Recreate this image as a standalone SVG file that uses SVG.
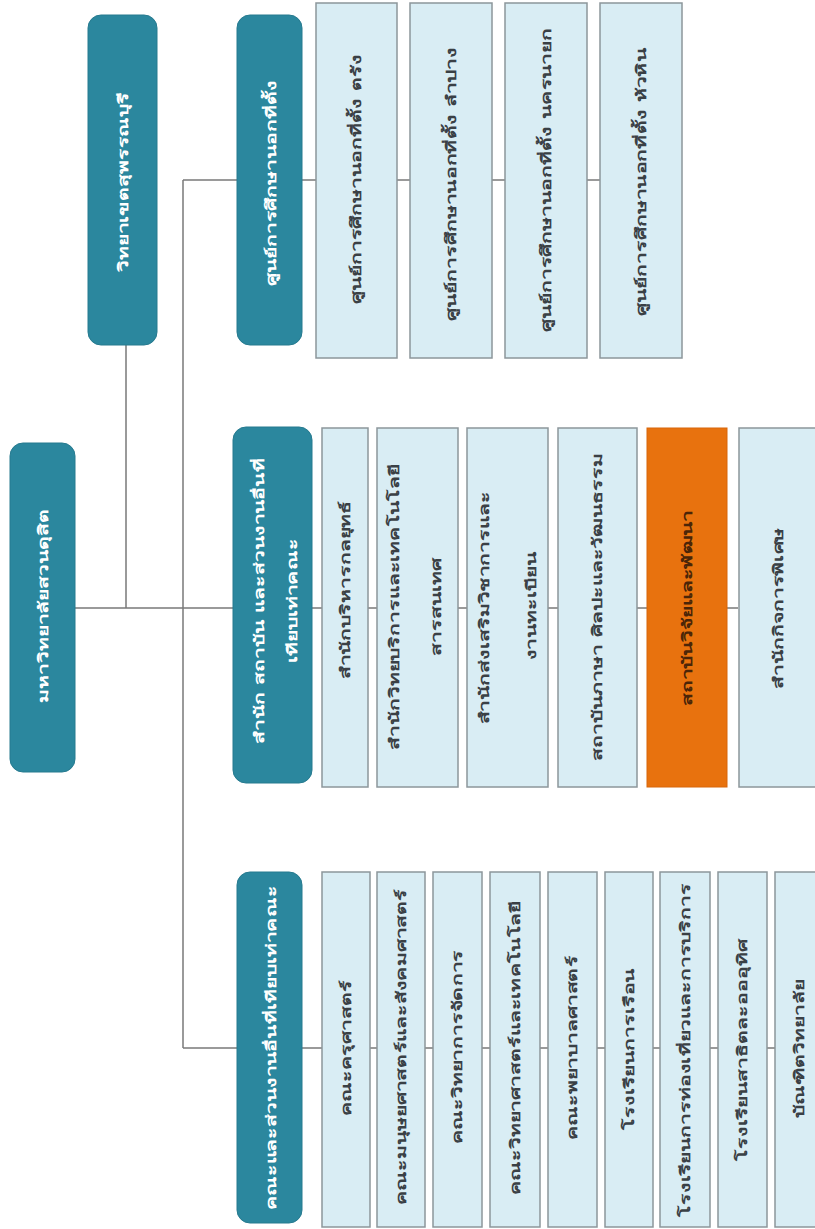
<svg xmlns="http://www.w3.org/2000/svg" width="815" height="1229" viewBox="0 0 815 1229">
<style>
.hd{fill:#2b879e;stroke:#267a8f;stroke-width:1}
.bx{fill:#d9edf4;stroke:#8c969b;stroke-width:1.5}
.or{fill:#e8720e;stroke:#d8660a;stroke-width:1}
text{font-family:"DejaVu Sans",sans-serif;font-size:14px;text-anchor:middle;dominant-baseline:central;font-weight:bold}
.ht{fill:#ffffff}
.bt{fill:#3a4045}
.ot{fill:#4a2508}
.cn{fill:none;stroke:#7a7a7a;stroke-width:1.5}
</style>
<rect width="815" height="1229" fill="#ffffff"/>
<g id="connectors">
<path class="cn" d="M75,608H235M126,608V345M183,180V1048M183,180H237M183,1048H237"/>
<path class="cn" d="M302,180H316M397,180H410M492,180H505M587,180H600"/>
<path class="cn" d="M312,608H322M368,608H377M458,608H467M548,608H558M637,608H647M727,608H738"/>
<path class="cn" d="M302,1048H322M370,1048H377M425,1048H433M482,1048H490M540,1048H548M597,1048H605M653,1048H660M710,1048H718M767,1048H775"/>
</g>
<g id="root"><rect class="hd" x="10" y="443" width="65" height="329" rx="13"/><text class="ht" transform="translate(43 606) rotate(-90) scale(1.5 1)">มหาวิทยาลัยสวนดุสิต</text></g>
<g id="campus"><rect class="hd" x="88" y="15" width="69" height="330" rx="13"/><text class="ht" transform="translate(123 182) rotate(-90) scale(1.5 1)">วิทยาเขตสุพรรณบุรี</text></g>

<g id="h-centers"><rect class="hd" x="237" y="15" width="65" height="330" rx="13"/><text class="ht" transform="translate(271 183) rotate(-90) scale(1.5 1)">ศูนย์การศึกษานอกที่ตั้ง</text></g>
<g id="c1"><rect class="bx" x="316" y="3" width="81" height="355"/><text class="bt" transform="translate(356 179) rotate(-90) scale(1.5 1)">ศูนย์การศึกษานอกที่ตั้ง ตรัง</text></g>
<g id="c2"><rect class="bx" x="410" y="3" width="82" height="355"/><text class="bt" transform="translate(451 184) rotate(-90) scale(1.5 1)">ศูนย์การศึกษานอกที่ตั้ง ลำปาง</text></g>
<g id="c3"><rect class="bx" x="505" y="3" width="82" height="355"/><text class="bt" transform="translate(546 180) rotate(-90) scale(1.5 1)">ศูนย์การศึกษานอกที่ตั้ง นครนายก</text></g>
<g id="c4"><rect class="bx" x="600" y="3" width="82" height="355"/><text class="bt" transform="translate(641 182) rotate(-90) scale(1.5 1)">ศูนย์การศึกษานอกที่ตั้ง หัวหิน</text></g>

<g id="h-offices"><rect class="hd" x="233" y="427" width="79" height="356" rx="13"/>
<text class="ht" transform="translate(259 601) rotate(-90) scale(1.5 1)">สำนัก สถาบัน และส่วนงานอื่นที่</text>
<text class="ht" transform="translate(292 601) rotate(-90) scale(1.5 1)">เทียบเท่าคณะ</text></g>
<g id="o1"><rect class="bx" x="322" y="428" width="46" height="359"/><text class="bt" transform="translate(345 590) rotate(-90) scale(1.5 1)">สำนักบริหารกลยุทธ์</text></g>
<g id="o2"><rect class="bx" x="377" y="428" width="81" height="359"/>
<text class="bt" transform="translate(394 607) rotate(-90) scale(1.5 1)">สำนักวิทยบริการและเทคโนโลยี</text>
<text class="bt" transform="translate(436 607) rotate(-90) scale(1.5 1)">สารสนเทศ</text></g>
<g id="o3"><rect class="bx" x="467" y="428" width="81" height="359"/>
<text class="bt" transform="translate(484 608) rotate(-90) scale(1.5 1)">สำนักส่งเสริมวิชาการและ</text>
<text class="bt" transform="translate(531 606) rotate(-90) scale(1.5 1)">งานทะเบียน</text></g>
<g id="o4"><rect class="bx" x="558" y="428" width="79" height="359"/><text class="bt" transform="translate(597 607) rotate(-90) scale(1.5 1)">สถาบันภาษา ศิลปะและวัฒนธรรม</text></g>
<g id="o5"><rect class="or" x="647" y="428" width="80" height="359"/><text class="ot" transform="translate(687 608) rotate(-90) scale(1.5 1)">สถาบันวิจัยและพัฒนา</text></g>
<g id="o6"><rect class="bx" x="739" y="428" width="80" height="359"/><text class="bt" transform="translate(778 608) rotate(-90) scale(1.5 1)">สำนักกิจการพิเศษ</text></g>

<g id="h-faculties"><rect class="hd" x="237" y="872" width="65" height="351" rx="13"/><text class="ht" transform="translate(271 1048) rotate(-90) scale(1.5 1)">คณะและส่วนงานอื่นที่เทียบเท่าคณะ</text></g>
<g id="f1"><rect class="bx" x="322" y="872" width="48" height="355"/><text class="bt" transform="translate(346 1048) rotate(-90) scale(1.5 1)">คณะครุศาสตร์</text></g>
<g id="f2"><rect class="bx" x="377" y="872" width="48" height="355"/><text class="bt" transform="translate(401 1047) rotate(-90) scale(1.5 1)">คณะมนุษยศาสตร์และสังคมศาสตร์</text></g>
<g id="f3"><rect class="bx" x="433" y="872" width="49" height="355"/><text class="bt" transform="translate(457 1047) rotate(-90) scale(1.5 1)">คณะวิทยาการจัดการ</text></g>
<g id="f4"><rect class="bx" x="490" y="872" width="50" height="355"/><text class="bt" transform="translate(515 1048) rotate(-90) scale(1.5 1)">คณะวิทยาศาสตร์และเทคโนโลยี</text></g>
<g id="f5"><rect class="bx" x="548" y="872" width="49" height="355"/><text class="bt" transform="translate(572 1048) rotate(-90) scale(1.5 1)">คณะพยาบาลศาสตร์</text></g>
<g id="f6"><rect class="bx" x="605" y="872" width="48" height="355"/><text class="bt" transform="translate(629 1049) rotate(-90) scale(1.5 1)">โรงเรียนการเรือน</text></g>
<g id="f7"><rect class="bx" x="660" y="872" width="50" height="355"/><text class="bt" transform="translate(685 1050) rotate(-90) scale(1.5 1)">โรงเรียนการท่องเที่ยวและการบริการ</text></g>
<g id="f8"><rect class="bx" x="718" y="872" width="49" height="355"/><text class="bt" transform="translate(742 1050) rotate(-90) scale(1.5 1)">โรงเรียนสาธิตละอออุทิศ</text></g>
<g id="f9"><rect class="bx" x="775" y="872" width="48" height="355"/><text class="bt" transform="translate(799 1049) rotate(-90) scale(1.5 1)">บัณฑิตวิทยาลัย</text></g>
</svg>
